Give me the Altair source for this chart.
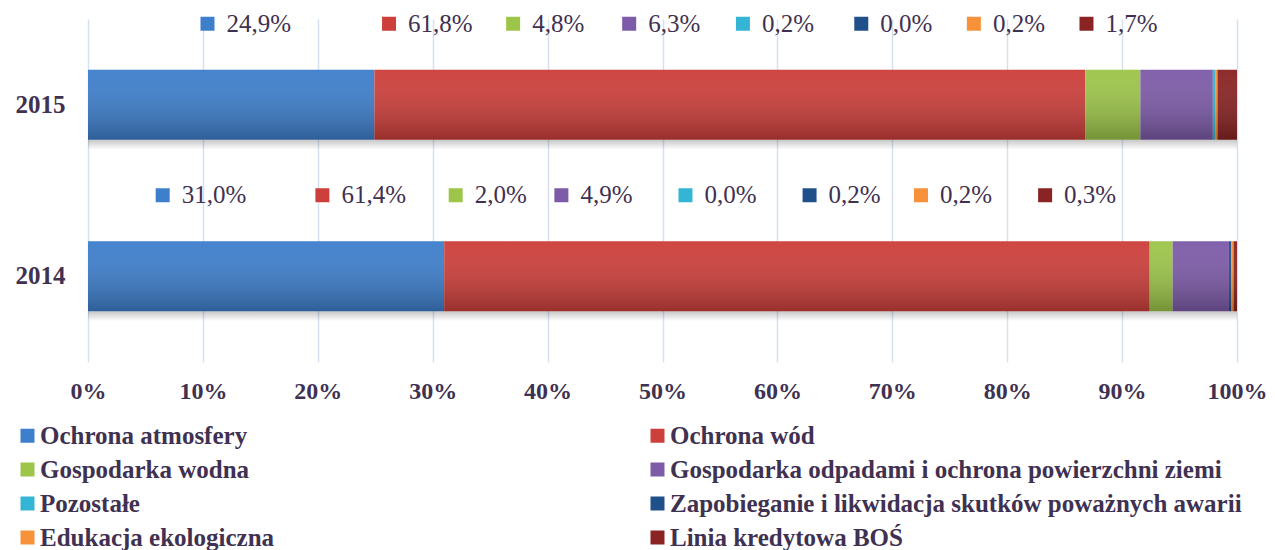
import altair as alt
import pandas as pd

# ---- data ----
categories = [
    "Ochrona atmosfery",
    "Ochrona wód",
    "Gospodarka wodna",
    "Gospodarka odpadami i ochrona powierzchni ziemi",
    "Pozostałe",
    "Zapobieganie i likwidacja skutków poważnych awarii",
    "Edukacja ekologiczna",
    "Linia kredytowa BOŚ",
]
years = ["2015", "2014"]
values_2015 = [24.9, 61.8, 4.8, 6.3, 0.2, 0.0, 0.2, 1.7]
values_2014 = [31.0, 61.4, 2.0, 4.9, 0.0, 0.2, 0.2, 0.3]

# anchor of each (manually placed) data label, in axis units (share of 100%)
label_anchor_2015 = [0.104, 0.262, 0.370, 0.471, 0.570, 0.673, 0.771, 0.869]
label_anchor_2014 = [0.065, 0.204, 0.320, 0.412, 0.520, 0.628, 0.725, 0.833]

# ---- styles ----
colors = ["#3e7fcc", "#cd3f3b", "#9dc54a", "#7d5ba8", "#35b5d5", "#20508a", "#f7923a", "#8a2323"]
text_color = "#3f3151"
font = "Liberation Serif"
grid_color = "#d5e1f1"

rows, lab_rows = [], []
for year, vals, anchors in [("2015", values_2015, label_anchor_2015), ("2014", values_2014, label_anchor_2014)]:
    for i, (c, v, a) in enumerate(zip(categories, vals, anchors)):
        rows.append({"year": year, "category": c, "value": v, "idx": i})
        lab_rows.append({"year": year, "category": c, "pos": a,
                         "label": f"{v:.1f}%".replace(".", ",")})
df = pd.DataFrame(rows)
df_lab = pd.DataFrame(lab_rows)
df_full = pd.DataFrame({"year": years, "x0": [0.0, 0.0], "x1": [1.0, 1.0]})

xscale = alt.Scale(domain=[0, 1], nice=False)
yscale = alt.Scale(domain=years, paddingInner=0, paddingOuter=0)
cscale = alt.Scale(domain=categories, range=colors)

x_axis = alt.Axis(format=".0%", values=[i / 10 for i in range(11)], grid=True,
                  gridColor=grid_color, gridWidth=1.5, domain=False, ticks=False,
                  labelFlush=False,
                  labelFont=font, labelFontSize=24, labelFontWeight="bold",
                  labelColor=text_color, labelPadding=17, title=None)
y_axis = alt.Axis(title=None, domain=False, ticks=False, labelPadding=23,
                  labelFont=font, labelFontSize=25, labelFontWeight="bold",
                  labelColor=text_color)

shadow = alt.Chart(df_full).mark_bar(
    size=10, yOffset=40,
    color=alt.Gradient(gradient="linear", x1=0, y1=0, x2=0, y2=1,
                       stops=[alt.GradientStop(offset=0, color="rgba(0,0,0,0.22)"),
                              alt.GradientStop(offset=1, color="rgba(0,0,0,0)")])
).encode(
    x=alt.X("x0:Q", scale=xscale, axis=x_axis),
    x2="x1:Q",
    y=alt.Y("year:N", sort=years, scale=yscale, axis=y_axis),
)

bars = alt.Chart(df).mark_bar(size=70).encode(
    x=alt.X("value:Q", stack="normalize", scale=xscale, axis=x_axis),
    y=alt.Y("year:N", sort=years, scale=yscale, axis=y_axis),
    color=alt.Color("category:N", scale=cscale, sort=categories,
                    legend=alt.Legend(
                        title=None, orient="none", legendX=-73, legendY=404,
                        direction="horizontal", columns=2,
                        symbolType="square", symbolSize=196,
                        symbolStrokeWidth=0, symbolOpacity=1,
                        labelFont=font, labelFontSize=25, labelFontWeight="bold",
                        labelColor=text_color, labelOffset=0, labelLimit=900,
                        rowPadding=8, columnPadding=370)),
    order=alt.Order("idx:Q"),
)

shade = alt.Chart(df_full).mark_bar(
    size=70,
    color=alt.Gradient(gradient="linear", x1=0, y1=0, x2=0, y2=1,
                       stops=[alt.GradientStop(offset=0, color="rgba(255,255,255,0.04)"),
                              alt.GradientStop(offset=1, color="rgba(0,0,0,0.26)")])
).encode(
    x=alt.X("x0:Q", scale=xscale, axis=x_axis),
    x2="x1:Q",
    y=alt.Y("year:N", sort=years, scale=yscale, axis=y_axis),
)

squares = alt.Chart(df_lab).mark_square(size=196, filled=True, opacity=1, yOffset=-81).encode(
    x=alt.X("pos:Q", scale=xscale, axis=x_axis),
    y=alt.Y("year:N", sort=years, scale=yscale, axis=y_axis),
    color=alt.Color("category:N", scale=cscale, sort=categories),
)

texts = alt.Chart(df_lab).mark_text(
    align="left", baseline="middle", dx=19, yOffset=-81,
    font=font, fontSize=25, color=text_color
).encode(
    x=alt.X("pos:Q", scale=xscale, axis=x_axis),
    y=alt.Y("year:N", sort=years, scale=yscale, axis=y_axis),
    text="label:N",
)

chart = alt.layer(shadow, bars, shade, squares, texts).properties(
    width=1149, height=343,
    padding={"left": 80, "top": 11, "right": 30, "bottom": 200},
    autosize=alt.AutoSizeParams(type="none"),
    background="white",
).configure_view(stroke=None)

chart.save("out.html", embed_options={"renderer": "svg", "actions": False})
